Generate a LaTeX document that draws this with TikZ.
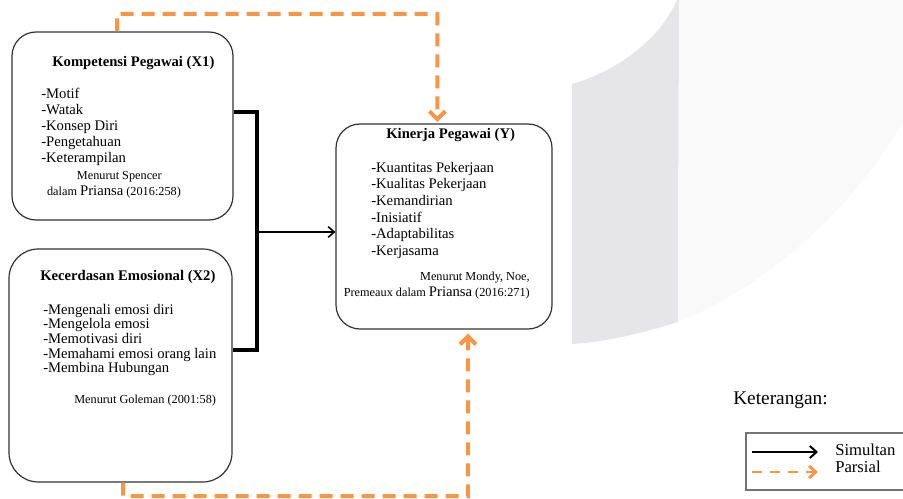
\documentclass[tikz,border=0pt]{standalone}
\usepackage{fontspec}
\setmainfont{Liberation Serif}
\usetikzlibrary{arrows.meta,calc}
\definecolor{org}{HTML}{F79646}
\definecolor{bandA}{HTML}{E6E6E8}
\definecolor{bandB}{HTML}{F9F9F9}
\newcommand\bigtxt{\fontsize{11pt}{12pt}\selectfont}
\newcommand\smalltxt{\fontsize{9.2pt}{12pt}\selectfont}
\begin{document}
\begin{tikzpicture}[x=0.75pt,y=-0.75pt,
  box/.style={draw=black!80, line width=0.9pt, rounded corners=18pt, inner sep=0pt},
  txt/.style={inner sep=0pt, font=\bigtxt},
  ttl/.style={inner sep=0pt, anchor=west, font=\bigtxt\bfseries},
  simul/.style={line width=1.2pt, -{Straight Barb[length=4.5pt,width=8pt]}},
  bracket/.style={line width=2.6pt, line join=miter},
  partial/.style={draw=org, line width=3pt, dash pattern=on 9.75pt off 6pt,
    -{Straight Barb[length=6pt,width=12pt]}}
]
\useasboundingbox (0,0) rectangle (903,499);
\clip (0,0) rectangle (903,499);
% background shapes
\fill[bandA] (572,84) .. controls (620,70) and (660,38) .. (677,0) -- (679,0)
  -- (678,322) .. controls (640,334) and (605,342) .. (572,344) -- cycle;
\fill[bandB] (679,0) -- (903,0) -- (903,123) .. controls (850,210) and (770,285) .. (678,322) -- cycle;

% boxes
\node[box, minimum width=165.75pt, minimum height=141pt] (X1) at (122.5,126) {};
\node[box, rounded corners=22pt, minimum width=167.25pt, minimum height=174.75pt] (X2) at (120.5,365.5) {};
\node[box, minimum width=162pt, minimum height=153.75pt] (Y) at (444,226.5) {};

% X1 text
\node[ttl] (X1t) at (52,63) {Kompetensi Pegawai (X1)};
\node[txt, anchor=north west, align=left, font=\fontsize{11pt}{12pt}\selectfont] (X1i) at (41,88)
  {-Motif\\-Watak\\-Konsep Diri\\-Pengetahuan\\-Keterampilan};
\node[txt, anchor=center, align=center, font=\fontsize{9.2pt}{12pt}\selectfont] (X1s) at (114,185)
  {\hspace*{8pt}Menurut Spencer\\dalam {\bigtxt Priansa} (2016:258)};

% X2 text
\node[ttl] (X2t) at (40,277) {Kecerdasan Emosional (X2)};
\node[txt, anchor=north west, align=left, font=\fontsize{11pt}{10.9pt}\selectfont] (X2i) at (43,304)
  {-Mengenali emosi diri\\-Mengelola emosi\\-Memotivasi diri\\-Memahami emosi orang lain\\-Membina Hubungan};
\node[txt, anchor=west, font=\smalltxt] (X2s) at (74,401) {Menurut Goleman (2001:58)};

% Y text
\node[ttl] (Yt) at (386,135) {Kinerja Pegawai (Y)};
\node[txt, anchor=north west, align=left, font=\fontsize{11pt}{12.4pt}\selectfont] (Yi) at (371,162)
  {-Kuantitas Pekerjaan\\-Kualitas Pekerjaan\\-Kemandirian\\-Inisiatif\\-Adaptabilitas\\-Kerjasama};
\node[txt, anchor=east, align=right, font=\fontsize{9.2pt}{12pt}\selectfont] (Ys) at (530,286)
  {Menurut Mondy, Noe,\\Premeaux dalam {\bigtxt Priansa} (2016:271)};

% simultaneous connectors
\coordinate (j) at (257,232);
\draw[bracket] ([yshift=10.5pt]X1.east) -| (j) |- ([yshift=11.6pt]X2.east);
\draw[simul] (j) -- (j -| Y.west);

% partial connectors
\coordinate (ta) at (117,14);
\coordinate (ba) at (123,496);
\draw[partial] ([xshift=-4pt]X1.north) -- (ta) -| ([xshift=-5pt,yshift=1pt]Y.north);
\draw[partial, shorten >=3pt] ([xshift=2pt]X2.south) -- (ba) -| ([xshift=18pt]Y.south);

% legend
\node[inner sep=0pt, anchor=west, font=\fontsize{14.5pt}{16pt}\selectfont] (ket) at (733,400) {Keterangan:};
\node[draw=black!55, line width=0.8pt, inner sep=0pt, minimum width=138pt, minimum height=42.75pt] (leg) at (838,461.5) {};
\coordinate (s1) at (752,452);
\coordinate (s2) at (818,452);
\coordinate (p1) at (752,472);
\coordinate (p2) at (818,472);
\draw[line width=1.5pt, -{Straight Barb[length=5pt,width=9pt]}] (s1) -- (s2);
\draw[draw=org, line width=2.2pt, dash pattern=on 7.5pt off 6pt, -{Straight Barb[length=5pt,width=9pt]}] (p1) -- (p2);
\node[inner sep=0pt, anchor=west, font=\fontsize{12.5pt}{13pt}\selectfont] (sim) at (835,450) {Simultan};
\node[inner sep=0pt, anchor=west, font=\fontsize{12.5pt}{13pt}\selectfont] (par) at (835,467) {Parsial};
\end{tikzpicture}
\end{document}
